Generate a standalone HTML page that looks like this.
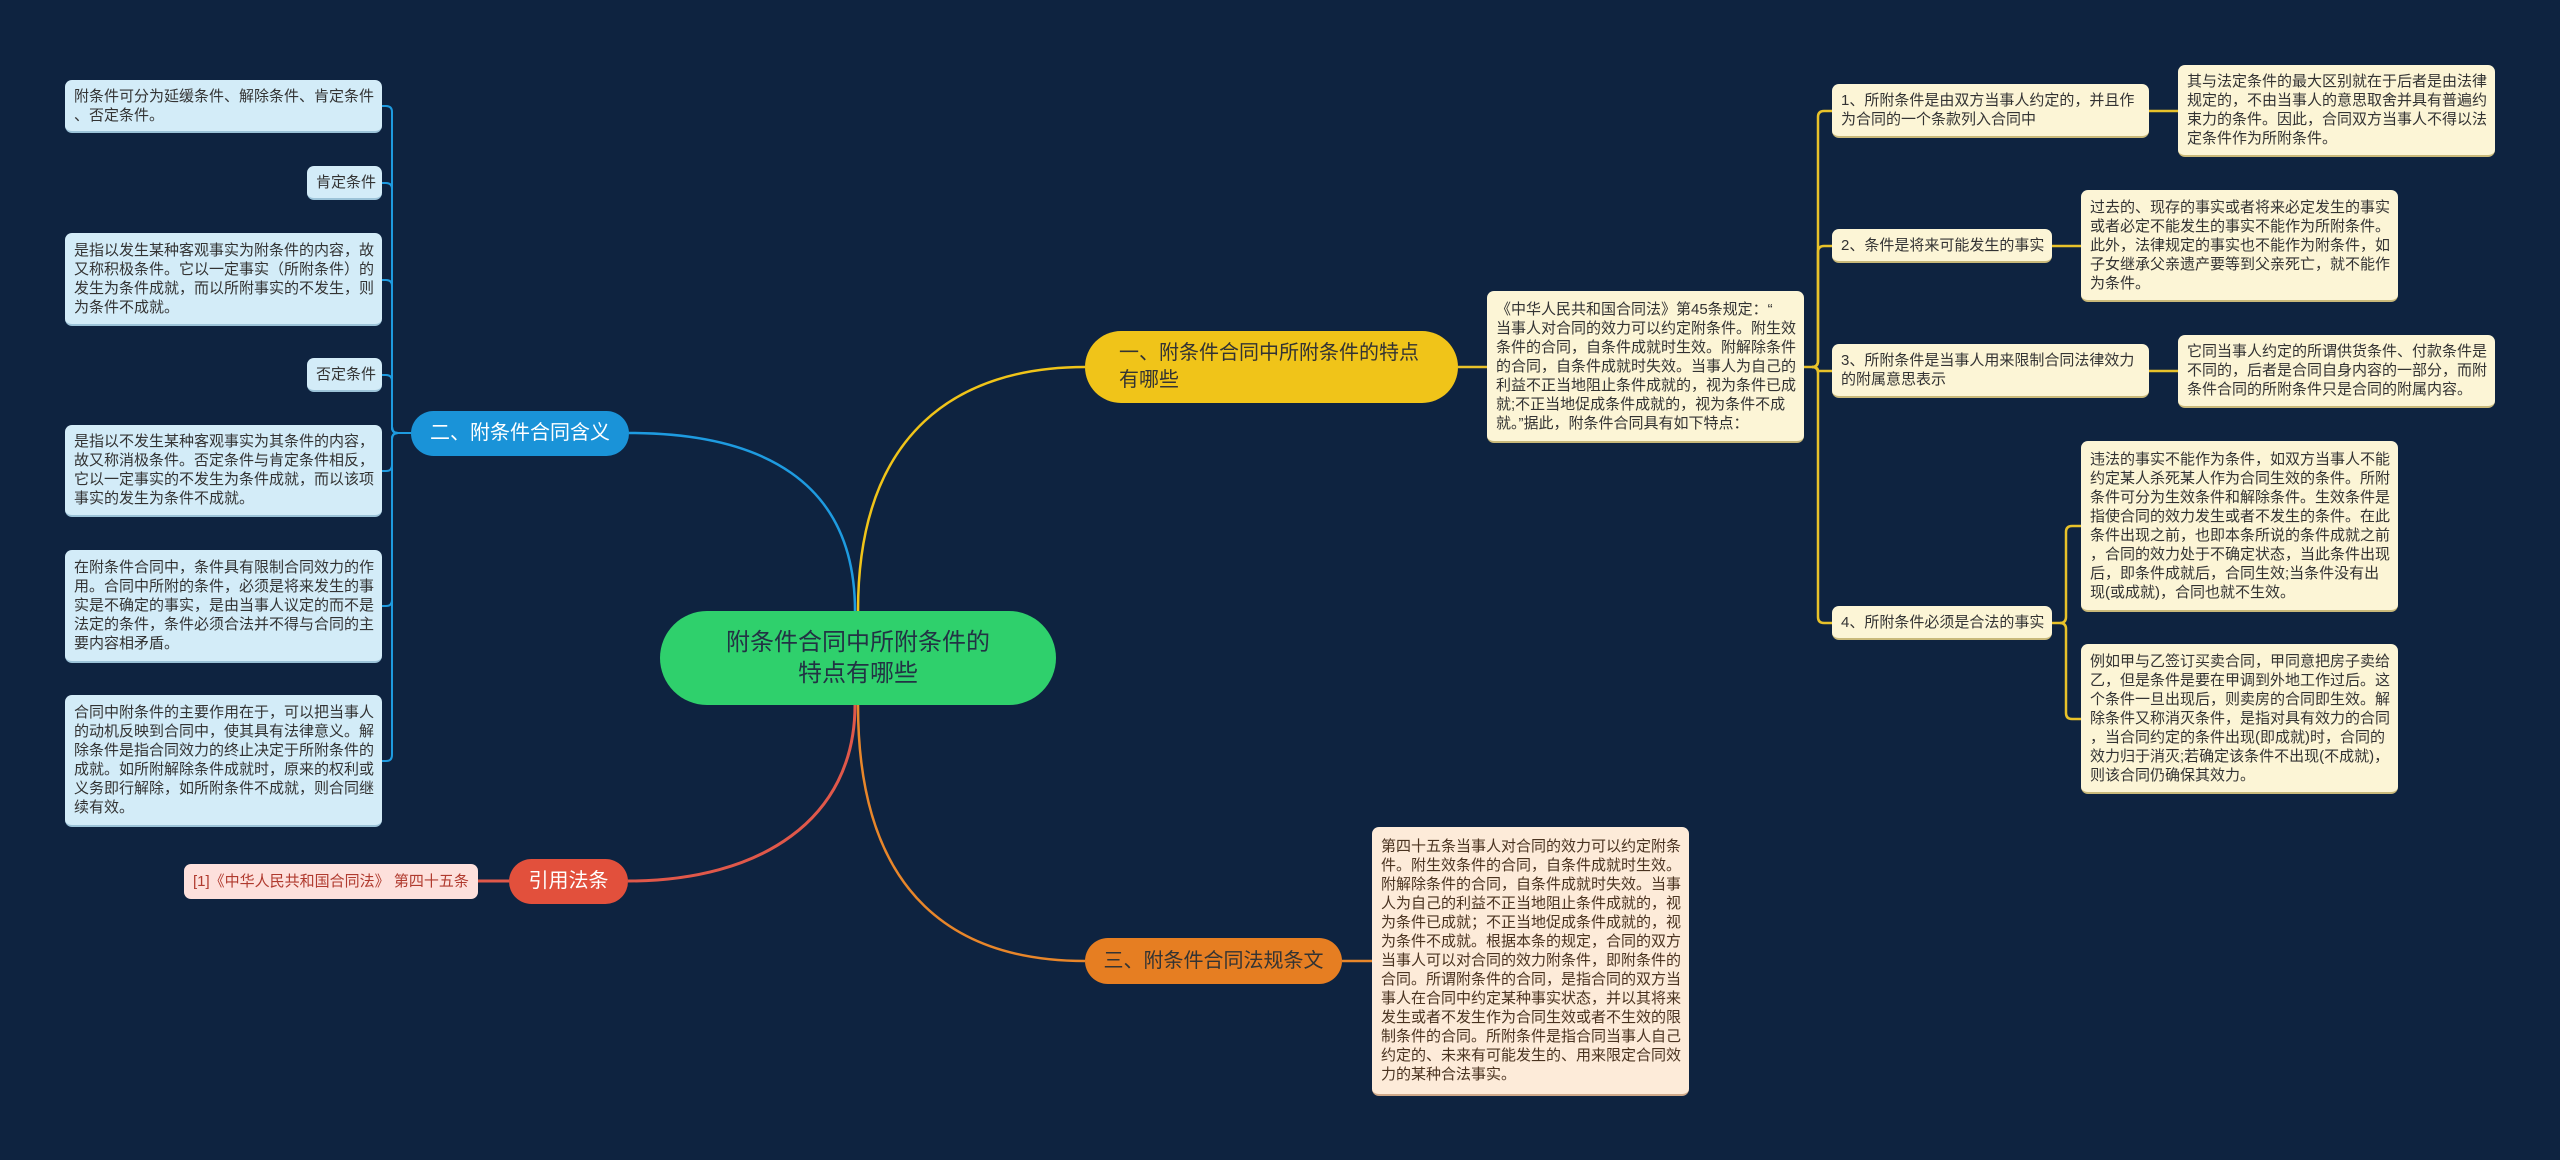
<!DOCTYPE html>
<html><head><meta charset="utf-8"><style>
html,body{margin:0;padding:0;}
body{width:2560px;height:1160px;background:#0e2340;position:relative;overflow:hidden;font-family:"Liberation Sans","Noto Sans CJK SC",sans-serif;}
.n{position:absolute;box-sizing:border-box;display:flex;align-items:center;border-radius:7px;font-size:15px;line-height:19px;color:#333;padding:0 9px;white-space:nowrap;}
.b{background:#d3ecf8;border-bottom:2px solid #9cc3d8;}
.y{background:#fcf5d6;border-bottom:2px solid #c9b97a;}
.p{background:#fdebd9;border-bottom:2px solid #cfa98a;color:#4a3320;}
.br{position:absolute;box-sizing:border-box;display:flex;align-items:center;justify-content:center;border-radius:24px;font-size:20px;line-height:27px;white-space:nowrap;}
svg{position:absolute;left:0;top:0;}
</style></head><body>
<svg width="2560" height="1160" fill="none" stroke-width="2.5">
<!-- main connectors -->
<path d="M855 611 C855 480,760 433,629 433" stroke="#1e9be0"/>
<path d="M858 611 C858 430,960 367,1085 367" stroke="#f0c419"/>
<path d="M855 705 C855 820,760 881,628 881" stroke="#e0584a" stroke-width="3"/>
<path d="M858 705 C858 900,960 961,1085 961" stroke="#e8862a"/>
<!-- blue spine -->
<g stroke="#1e9be0" stroke-width="2">
<path d="M411 433 H398 Q392 433 392 427 V112 Q392 106 386 106 H382"/>
<path d="M398 433 Q392 433 392 427 V189 Q392 183 386 183 H382"/>
<path d="M398 433 Q392 433 392 427 V286 Q392 280 386 280 H382"/>
<path d="M398 433 Q392 433 392 427 V381 Q392 375 386 375 H382"/>
<path d="M398 433 Q392 433 392 439 V465 Q392 471 386 471 H382"/>
<path d="M398 433 Q392 433 392 439 V600 Q392 606 386 606 H382"/>
<path d="M398 433 Q392 433 392 439 V755 Q392 761 386 761 H382"/>
</g>
<path d="M509 881 H478" stroke="#e0584a" stroke-width="3"/>
<!-- yellow -->
<g stroke="#e8c22a" stroke-width="2.5">
<path d="M1458 367 H1487"/>
<path d="M1804 367 H1812 Q1818 367 1818 361 V117 Q1818 111 1824 111 H1832"/>
<path d="M1812 367 Q1818 367 1818 361 V252 Q1818 246 1824 246 H1832"/>
<path d="M1812 367 Q1818 367 1818 371 Q1818 371 1824 371 H1832"/>
<path d="M1812 367 Q1818 367 1818 373 V617 Q1818 623 1824 623 H1832"/>
<path d="M2149 111 H2178"/>
<path d="M2052 246 H2081"/>
<path d="M2149 371 H2178"/>
<path d="M2052 623 H2060 Q2066 623 2066 617 V532 Q2066 526 2072 526 H2081"/>
<path d="M2060 623 Q2066 623 2066 629 V713 Q2066 719 2072 719 H2081"/>
</g>
<path d="M1342 961 H1372" stroke="#e8862a" stroke-width="2.5"/>
</svg>

<!-- central -->
<div class="br" style="left:660px;top:611px;width:396px;height:94px;border-radius:47px;background:#2fd06c;color:#234;font-size:24px;line-height:31px;text-align:center;">附条件合同中所附条件的<br>特点有哪些</div>

<!-- left branch -->
<div class="br" style="left:411px;top:411px;width:218px;height:45px;background:#1a93d8;color:#fff;">二、附条件合同含义</div>
<div class="n b" style="left:65px;top:80px;width:317px;height:53px;">附条件可分为延缓条件、解除条件、肯定条件<br>、否定条件。</div>
<div class="n b" style="left:307px;top:166px;width:75px;height:34px;">肯定条件</div>
<div class="n b" style="left:65px;top:233px;width:317px;height:93px;">是指以发生某种客观事实为附条件的内容，故<br>又称积极条件。它以一定事实（所附条件）的<br>发生为条件成就，而以所附事实的不发生，则<br>为条件不成就。</div>
<div class="n b" style="left:307px;top:358px;width:75px;height:34px;">否定条件</div>
<div class="n b" style="left:65px;top:425px;width:317px;height:92px;">是指以不发生某种客观事实为其条件的内容，<br>故又称消极条件。否定条件与肯定条件相反，<br>它以一定事实的不发生为条件成就，而以该项<br>事实的发生为条件不成就。</div>
<div class="n b" style="left:65px;top:550px;width:317px;height:113px;">在附条件合同中，条件具有限制合同效力的作<br>用。合同中所附的条件，必须是将来发生的事<br>实是不确定的事实，是由当事人议定的而不是<br>法定的条件，条件必须合法并不得与合同的主<br>要内容相矛盾。</div>
<div class="n b" style="left:65px;top:695px;width:317px;height:132px;">合同中附条件的主要作用在于，可以把当事人<br>的动机反映到合同中，使其具有法律意义。解<br>除条件是指合同效力的终止决定于所附条件的<br>成就。如所附解除条件成就时，原来的权利或<br>义务即行解除，如所附条件不成就，则合同继<br>续有效。</div>

<div class="br" style="left:509px;top:859px;width:119px;height:45px;background:#e2503c;color:#fff;">引用法条</div>
<div class="n" style="left:184px;top:864px;width:294px;height:35px;background:#fde0dc;color:#b03a2e;font-size:15px;">[1]《中华人民共和国合同法》 第四十五条</div>

<!-- right branch 1 -->
<div class="br" style="left:1085px;top:331px;width:373px;height:72px;border-radius:36px;background:#f0c419;color:#333;justify-content:flex-start;padding-left:34px;">一、附条件合同中所附条件的特点<br>有哪些</div>
<div class="n y" style="left:1487px;top:291px;width:317px;height:152px;">《中华人民共和国合同法》第45条规定：“<br>当事人对合同的效力可以约定附条件。附生效<br>条件的合同，自条件成就时生效。附解除条件<br>的合同，自条件成就时失效。当事人为自己的<br>利益不正当地阻止条件成就的，视为条件已成<br>就;不正当地促成条件成就的，视为条件不成<br>就。”据此，附条件合同具有如下特点：</div>

<div class="n y" style="left:1832px;top:84px;width:317px;height:54px;">1、所附条件是由双方当事人约定的，并且作<br>为合同的一个条款列入合同中</div>
<div class="n y" style="left:2178px;top:65px;width:317px;height:92px;">其与法定条件的最大区别就在于后者是由法律<br>规定的，不由当事人的意思取舍并具有普遍约<br>束力的条件。因此，合同双方当事人不得以法<br>定条件作为所附条件。</div>
<div class="n y" style="left:1832px;top:229px;width:220px;height:34px;">2、条件是将来可能发生的事实</div>
<div class="n y" style="left:2081px;top:190px;width:317px;height:112px;">过去的、现存的事实或者将来必定发生的事实<br>或者必定不能发生的事实不能作为所附条件。<br>此外，法律规定的事实也不能作为附条件，如<br>子女继承父亲遗产要等到父亲死亡，就不能作<br>为条件。</div>
<div class="n y" style="left:1832px;top:344px;width:317px;height:54px;">3、所附条件是当事人用来限制合同法律效力<br>的附属意思表示</div>
<div class="n y" style="left:2178px;top:335px;width:317px;height:73px;">它同当事人约定的所谓供货条件、付款条件是<br>不同的，后者是合同自身内容的一部分，而附<br>条件合同的所附条件只是合同的附属内容。</div>
<div class="n y" style="left:1832px;top:606px;width:220px;height:34px;">4、所附条件必须是合法的事实</div>
<div class="n y" style="left:2081px;top:441px;width:317px;height:171px;">违法的事实不能作为条件，如双方当事人不能<br>约定某人杀死某人作为合同生效的条件。所附<br>条件可分为生效条件和解除条件。生效条件是<br>指使合同的效力发生或者不发生的条件。在此<br>条件出现之前，也即本条所说的条件成就之前<br>，合同的效力处于不确定状态，当此条件出现<br>后，即条件成就后，合同生效;当条件没有出<br>现(或成就)，合同也就不生效。</div>
<div class="n y" style="left:2081px;top:644px;width:317px;height:150px;">例如甲与乙签订买卖合同，甲同意把房子卖给<br>乙，但是条件是要在甲调到外地工作过后。这<br>个条件一旦出现后，则卖房的合同即生效。解<br>除条件又称消灭条件，是指对具有效力的合同<br>，当合同约定的条件出现(即成就)时，合同的<br>效力归于消灭;若确定该条件不出现(不成就)，<br>则该合同仍确保其效力。</div>

<!-- right branch 3 -->
<div class="br" style="left:1085px;top:938px;width:257px;height:46px;background:#e67e22;color:#333;">三、附条件合同法规条文</div>
<div class="n p" style="left:1372px;top:827px;width:317px;height:269px;">第四十五条当事人对合同的效力可以约定附条<br>件。附生效条件的合同，自条件成就时生效。<br>附解除条件的合同，自条件成就时失效。当事<br>人为自己的利益不正当地阻止条件成就的，视<br>为条件已成就；不正当地促成条件成就的，视<br>为条件不成就。根据本条的规定，合同的双方<br>当事人可以对合同的效力附条件，即附条件的<br>合同。所谓附条件的合同，是指合同的双方当<br>事人在合同中约定某种事实状态，并以其将来<br>发生或者不发生作为合同生效或者不生效的限<br>制条件的合同。所附条件是指合同当事人自己<br>约定的、未来有可能发生的、用来限定合同效<br>力的某种合法事实。</div>
</body></html>
